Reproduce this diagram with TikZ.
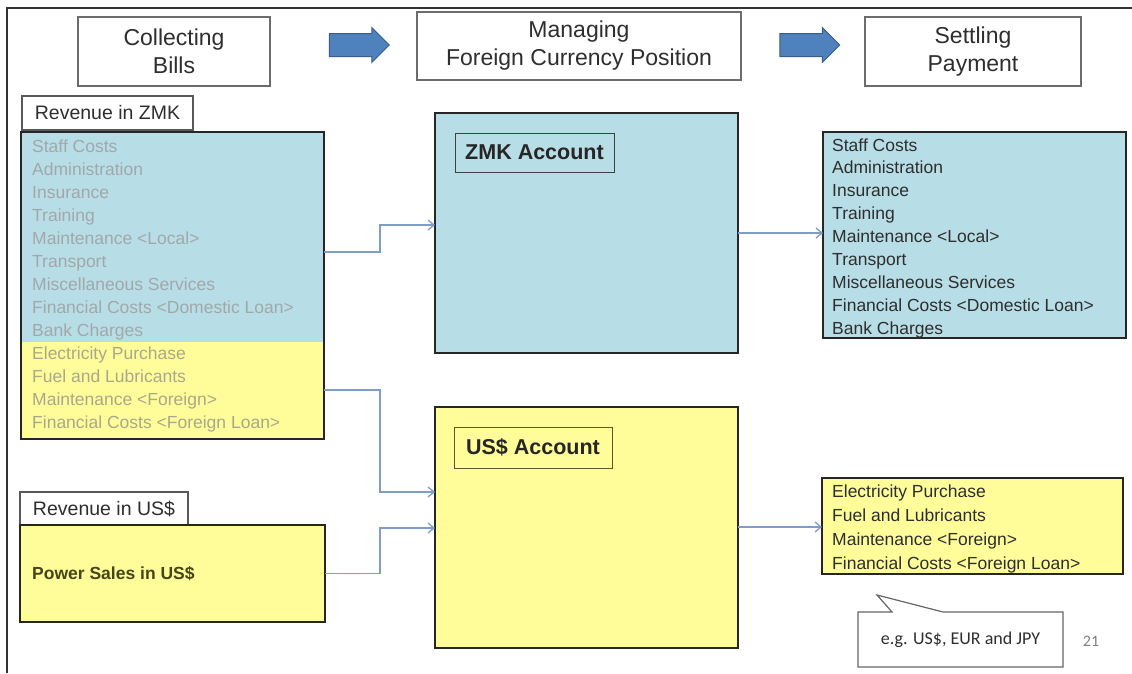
\documentclass[tikz,border=0pt]{standalone}
\usepackage{fontspec}
\setmainfont{Liberation Sans}
\newfontfamily\calib{Carlito}
\usetikzlibrary{arrows.meta,calc,shapes.arrows}
\definecolor{lblue}{HTML}{B7DDE6}
\definecolor{lyel}{HTML}{FFFD99}
\definecolor{conncol}{HTML}{7F9DCB}
\definecolor{arrfill}{HTML}{4F81BD}
\definecolor{arrline}{HTML}{385D8A}
\definecolor{fadetext}{HTML}{A2A8AA}
\definecolor{fadeyel}{HTML}{A9A88C}
\definecolor{darktext}{HTML}{2E2E2E}
\definecolor{olivetext}{HTML}{45451A}
\tikzset{
  rectbox/.style={draw, rectangle, inner sep=0pt, outer sep=0pt},
  headbox/.style={rectbox, draw=gray!85!black, line width=1.4pt, fill=white, align=center,
     font=\fontsize{23}{28}\selectfont, text=darktext},
  tagbox/.style={rectbox, draw=gray!70!black, line width=1.2pt, fill=white,
     font=\fontsize{19.5}{22}\selectfont, text=darktext},
  bigbox/.style={rectbox, draw=black!85, line width=1.8pt},
  acclabel/.style={rectbox, line width=1pt, font=\fontsize{21.5}{24}\selectfont\bfseries},
  listline/.style={anchor=base west, inner sep=0pt, font=\fontsize{17.5}{23}\selectfont},
  conn/.style={draw=conncol, line width=1.3pt, -{Straight Barb[length=6pt,width=10pt]}},
  blockarrow/.style={single arrow, draw=arrline, fill=arrfill, line width=1pt,
     inner sep=11pt, single arrow head extend=6pt, single arrow head indent=0pt,
     minimum height=60pt, shape border rotate=0}
}
\begin{document}
\begin{tikzpicture}[x=1pt,y=-1pt]
\useasboundingbox (0,0) rectangle (1132,673);
% frame
\draw[line width=1.5pt, black!80] (7,673) -- (7,8) -- (1132,8);

% header
\node[headbox, minimum width=192pt, minimum height=69pt] (collect) at (174,51.5) {Collecting\\Bills};
\node[headbox, minimum width=324pt, minimum height=68pt] (manage) at (579,46) {Managing\\Foreign Currency Position};
\node[headbox, minimum width=216pt, minimum height=69pt] (settle) at (973,51.5) {Settling\\Payment};
\node[blockarrow] (arr1) at (353.5,45) {};
\node[blockarrow] (arr2) at (804,45) {};

% left ZMK revenue box
\node[tagbox, minimum width=171pt, minimum height=34pt] (revzmk) at (107.5,113) {Revenue in ZMK};
\fill[lblue] (21,132) rectangle (324,342);
\fill[lyel] (21,342) rectangle (324,439);
\node[bigbox, minimum width=303pt, minimum height=307pt] (zmkbox) at (172.5,285.5) {};
\foreach \t [count=\i from 0] in {Staff Costs, Administration, Insurance, Training,
   Maintenance <Local>, Transport, Miscellaneous Services,
   Financial Costs <Domestic Loan>, Bank Charges}
  \node[listline, text=fadetext] (lz\i) at (32,{152.5+23*\i}) {\t};
\foreach \t [count=\i from 9] in {Electricity Purchase, Fuel and Lubricants,
   Maintenance <Foreign>, Financial Costs <Foreign Loan>}
  \node[listline, text=fadeyel] (lz\i) at (32,{152.5+23*\i}) {\t};

% left US$ revenue box
\node[tagbox, minimum width=168pt, minimum height=33pt] (revusd) at (104,508.5) {Revenue in US\$};
\node[bigbox, fill=lyel, minimum width=305pt, minimum height=97pt] (usdbox) at (172.5,573.5) {};
\node[listline, text=olivetext, font=\fontsize{17.5}{23}\selectfont\bfseries] (power) at (32,579.5) {Power Sales in US\$};

% accounts
\node[bigbox, fill=lblue, minimum width=303pt, minimum height=240pt] (zmkacc) at (586.5,233) {};
\node[acclabel, draw=black!75, minimum width=159pt, minimum height=39pt, text=black!85] (zmklab) at (534.5,152.5) {ZMK Account};
\node[bigbox, fill=lyel, minimum width=303pt, minimum height=241pt] (usdacc) at (586.5,527.5) {};
\node[acclabel, draw=olivetext!90, minimum width=158pt, minimum height=41pt, text=black!85] (usdlab) at (533,447.5) {US\$ Account};

% right boxes
\node[bigbox, fill=lblue, minimum width=303pt, minimum height=206pt] (rblue) at (974.5,235) {};
\foreach \t [count=\i from 0] in {Staff Costs, Administration, Insurance, Training,
   Maintenance <Local>, Transport, Miscellaneous Services,
   Financial Costs <Domestic Loan>, Bank Charges}
  \node[listline, text=darktext] (rb\i) at (832,{151+22.9*\i}) {\t};
\node[bigbox, fill=lyel, minimum width=301pt, minimum height=96pt] (ryel) at (972.5,526) {};
\foreach \t [count=\i from 0] in {Electricity Purchase, Fuel and Lubricants,
   Maintenance <Foreign>, Financial Costs <Foreign Loan>}
  \node[listline, text=darktext] (ry\i) at (832,{497+24*\i}) {\t};

% connectors
\draw[conn] ($(zmkbox.north east)+(0,120)$) -- ++(56,0) |- ($(zmkacc.north west)+(0,112)$);
\draw[conn] ($(zmkbox.north east)+(0,258)$) -- ++(56,0) |- ($(usdacc.north west)+(0,85)$);
\draw[conn] (usdbox.east) -- ++(55,0) |- ($(usdacc.north west)+(0,121)$);
\draw[conn] ($(zmkacc.north east)+(0,120)$) coordinate (s4) -- (rblue.west |- s4);
\draw[conn] ($(usdacc.north east)+(0,120)$) coordinate (s5) -- (ryel.west |- s5);

% callout
\draw[draw=gray!80!black, line width=1.2pt, fill=white]
  (858,612) -- (892,612) -- (877,595) -- (943,612) -- (1063,612) -- (1063,667) -- (858,667) -- cycle;
\node[inner sep=0pt, font=\calib\fontsize{18}{20}\selectfont, text=darktext] (eg) at (960.5,640) {e.g. US\$, EUR and JPY};
\node[inner sep=0pt, font=\calib\fontsize{16}{18}\selectfont, text=gray] (pg) at (1091,641) {21};
\end{tikzpicture}
\end{document}
